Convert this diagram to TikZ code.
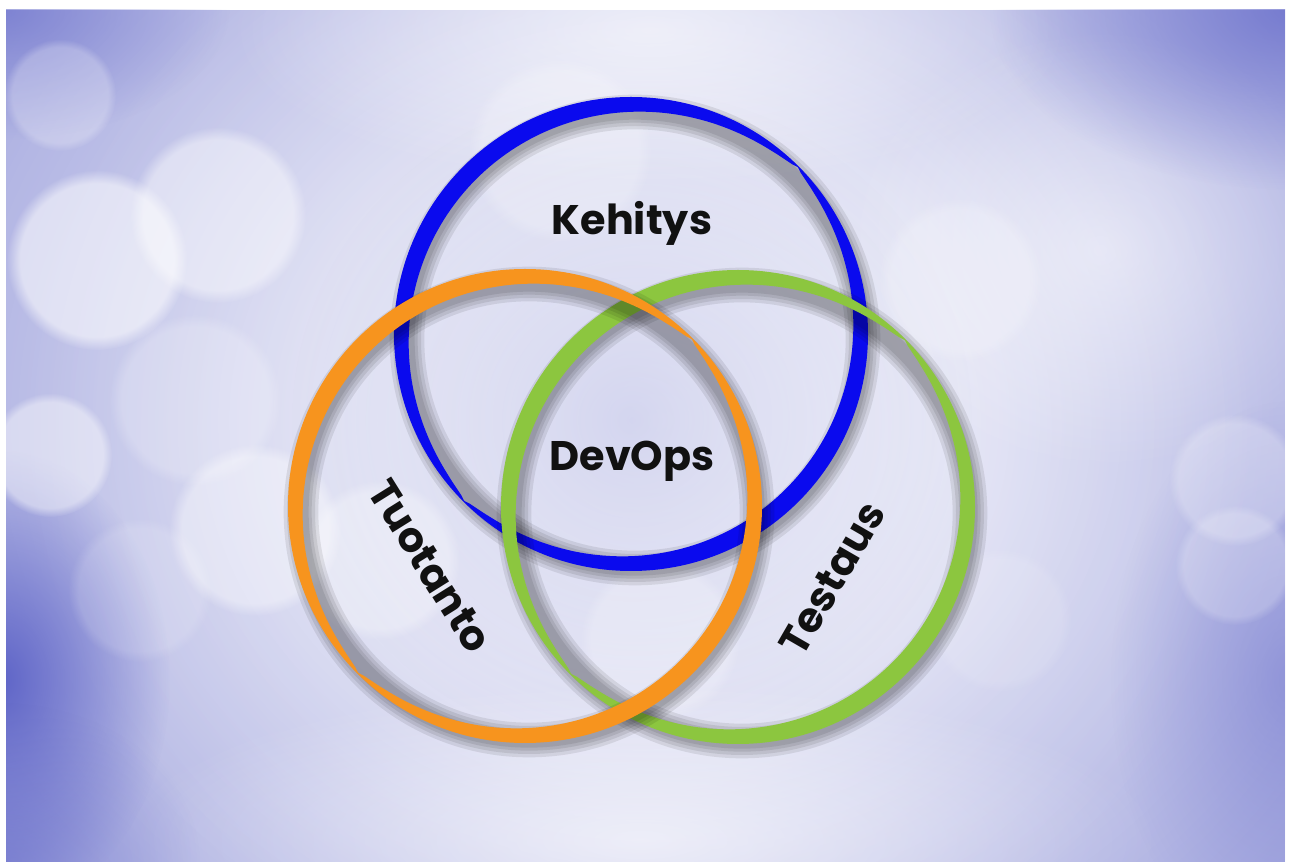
\documentclass[tikz,border=0pt]{standalone}
\usepackage{fontspec}
\newfontfamily\labelfont{Poppins}
\usetikzlibrary{fadings}

\definecolor{bgbase}{HTML}{9CA0DC}
\definecolor{bgdark}{HTML}{5A60C6}
\definecolor{lavender}{HTML}{B4B7E4}
\definecolor{ringblue}{HTML}{0A0AEE}
\definecolor{ringorange}{HTML}{F7941E}
\definecolor{ringgreen}{HTML}{8CC63F}
\definecolor{ink}{HTML}{111111}

\tikzfading[name=glowfade, inner color=transparent!0, outer color=transparent!100]

\tikzset{
  lbl/.style={font=\fontsize{31}{34}\selectfont\labelfont\bfseries, text=ink, inner sep=0pt},
  bokeh/.style={fill=white, path fading=circle with fuzzy edge 15 percent},
  haze/.style={path fading=glowfade},
}

% a ribbon ring: outer circle, inner edge that narrows to a hairline
% at the upper-right and lower-left, plus a soft drop shadow
\newcommand{\bandring}[3]{%
  \begin{scope}[shift={(#1,#2)}]
    \foreach \w in {26,21,16,11.5} {
      \draw[black, opacity=0.085, line width=\w pt] (4,6) circle (228);
    }
    \fill[#3, even odd rule] (0,0) circle (237)
      plot[domain=0:360, samples=241, variable=\t]
        (\t:{236-17*pow(abs(sin(\t+45))+0.0001,0.6)}) -- cycle;
  \end{scope}}

\begin{document}
\begin{tikzpicture}[x=0.75pt,y=-0.75pt]
\useasboundingbox (0,0) rectangle (1290,862);

% bokeh background
\begin{scope}
  \clip (6,10) rectangle (1285,862);
  \fill[bgbase] (6,10) rectangle (1285,862);
  \fill[white, opacity=0.95, haze] (660,420) ellipse (940 and 820);
  \fill[white, opacity=0.55, haze] (640,430) ellipse (620 and 600);
  \fill[white, opacity=0.6, haze] (650,30) ellipse (420 and 160);
  \fill[white, opacity=0.5, haze] (1100,250) ellipse (260 and 220);
  \fill[white, opacity=0.6, haze] (640,840) ellipse (520 and 160);
  % deeper blue towards the corners and the left edge
  \fill[bgdark, opacity=0.95, haze] (0,680) ellipse (170 and 230);
  \fill[bgdark, opacity=0.55, haze] (0,10) ellipse (230 and 130);
  \fill[bgdark, opacity=0.65, haze] (1290,10) ellipse (300 and 180);
  \fill[bgdark, opacity=0.40, haze] (1290,680) ellipse (180 and 280);
  \fill[bgdark, opacity=0.45, haze] (0,862) ellipse (200 and 160);
  \fill[lavender, opacity=0.55, haze] (632,420) ellipse (340 and 330);
  % light discs
  \fill[bokeh, opacity=0.55] (97,260) circle (90);
  \fill[bokeh, opacity=0.45] (218,215) circle (88);
  \fill[bokeh, opacity=0.22] (195,400) circle (86);
  \fill[bokeh, opacity=0.45] (50,455) circle (62);
  \fill[bokeh, opacity=0.40] (255,530) circle (86);
  \fill[bokeh, opacity=0.25] (60,95) circle (56);
  \fill[bokeh, opacity=0.15] (140,590) circle (72);
  \fill[bokeh, opacity=0.22] (560,150) circle (92);
  \fill[bokeh, opacity=0.20] (960,280) circle (82);
  \fill[bokeh, opacity=0.25] (1235,480) circle (66);
  \fill[bokeh, opacity=0.22] (1235,565) circle (60);
  \fill[bokeh, opacity=0.12] (1000,620) circle (72);
  \fill[bokeh, opacity=0.30] (380,560) circle (80);
  \fill[bokeh, opacity=0.22] (660,640) circle (80);
\end{scope}

% the three rings
\bandring{631}{334}{ringblue}
\bandring{738}{507}{ringgreen}
\bandring{525}{506}{ringorange}

% labels
\node[lbl, anchor=base] (kehitys) at (632,235) {Kehitys};
\node[lbl, anchor=base] (devops) at (632,471) {DevOps};
\node[lbl, rotate=-58] (tuotanto) at (430,566) {Tuotanto};
\node[lbl, rotate=60] (testaus) at (832,578) {Testaus};
\end{tikzpicture}
\end{document}
